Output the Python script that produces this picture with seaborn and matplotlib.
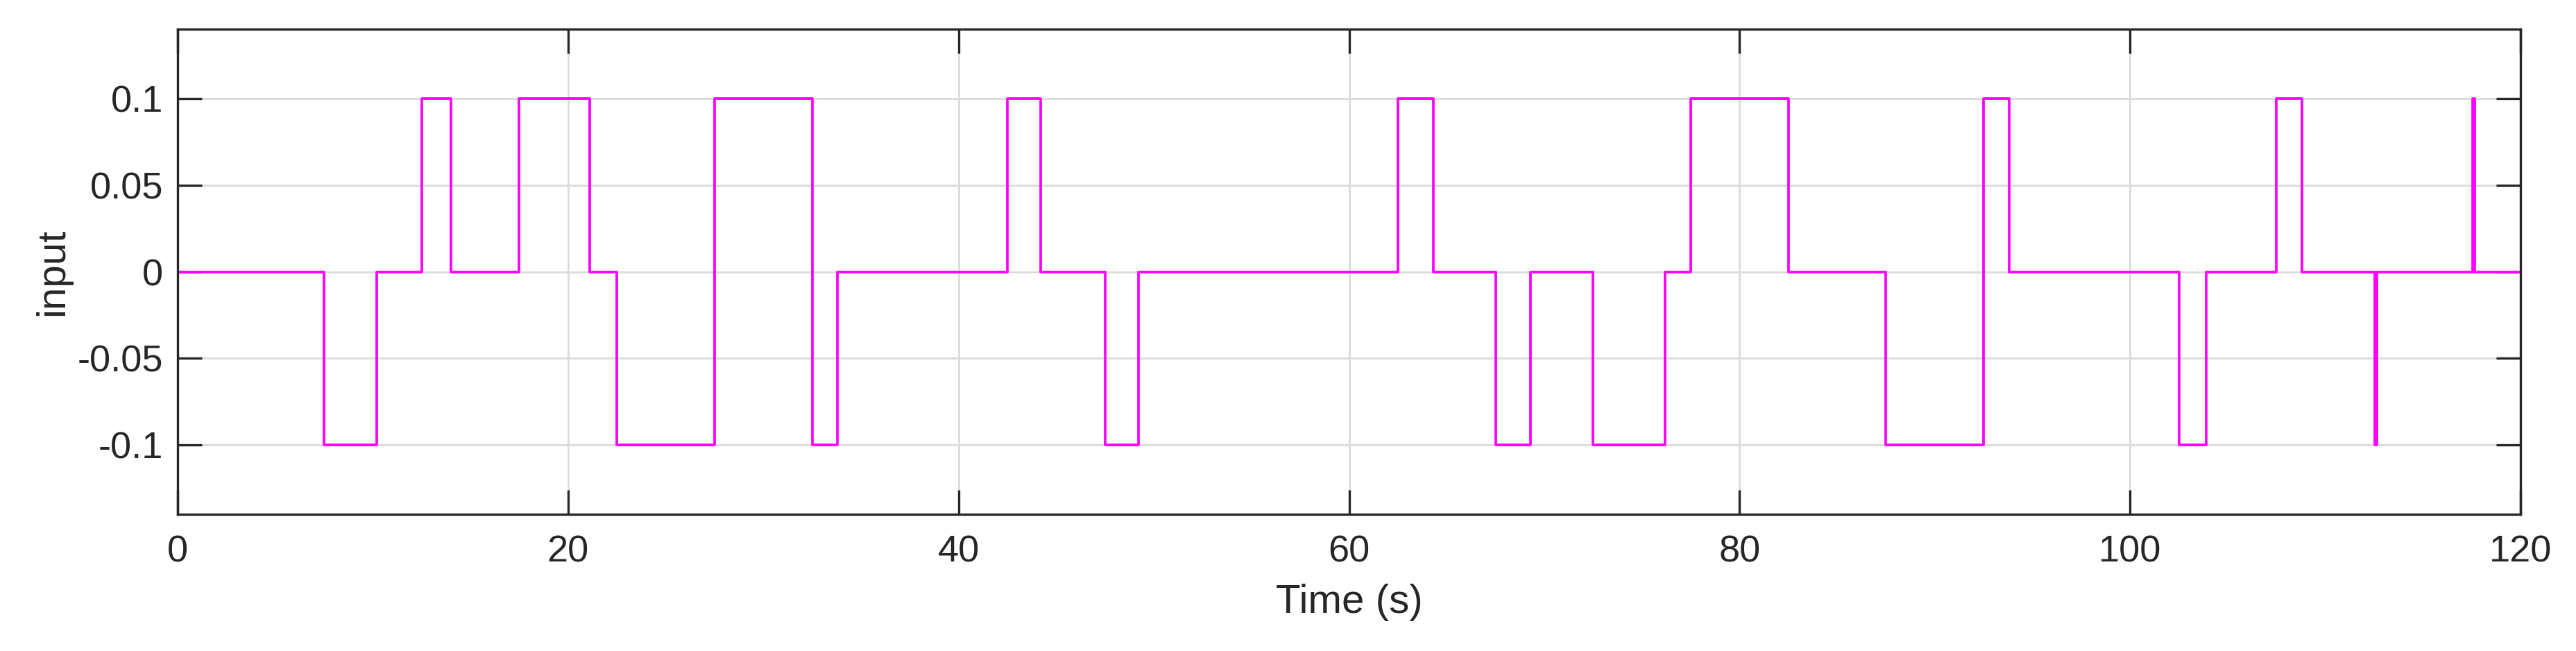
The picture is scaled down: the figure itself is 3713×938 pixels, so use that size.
import pandas as pd
import matplotlib
matplotlib.use("Agg")
import matplotlib.pyplot as plt
import seaborn as sns

# DATA (step input, value holds until next switch time)
switch_time = [0, 7.5, 10.2, 12.5, 14.0, 17.5, 21.1, 22.5, 27.5, 32.5, 33.8,
               42.5, 44.2, 47.5, 49.2, 62.5, 64.3, 67.5, 69.3, 72.5, 76.2,
               77.5, 82.5, 87.5, 92.5, 93.8, 102.5, 103.9, 107.5, 108.8,
               112.55, 112.65, 117.55, 117.65, 120]
input_level = [0, -0.1, 0, 0.1, 0, 0.1, 0, -0.1, 0.1, -0.1, 0,
               0.1, 0, -0.1, 0, 0.1, 0, -0.1, 0, -0.1, 0,
               0.1, 0, -0.1, 0.1, 0, -0.1, 0, 0.1, 0,
               -0.1, 0, 0.1, 0, 0]
x_ticks = [0, 20, 40, 60, 80, 100, 120]
y_ticks = [-0.1, -0.05, 0, 0.05, 0.1]
y_tick_labels = ["-0.1", "-0.05", "0", "0.05", "0.1"]

df = pd.DataFrame({"time": switch_time, "input": input_level})

# CONFIG
sns.set_theme(style="whitegrid", rc={
    "axes.edgecolor": "#262626",
    "axes.linewidth": 0.8,
    "grid.color": "#dcdcdc",
    "grid.linewidth": 0.7,
    "xtick.direction": "in",
    "ytick.direction": "in",
    "xtick.bottom": True,
    "ytick.left": True,
    "xtick.top": True,
    "ytick.right": True,
    "xtick.major.size": 8.5,
    "ytick.major.size": 8.5,
    "xtick.major.width": 0.8,
    "ytick.major.width": 0.8,
    "xtick.color": "#262626",
    "ytick.color": "#262626",
    "text.color": "#262626",
    "axes.labelcolor": "#262626",
})
plt.rcParams["font.family"] = ["Liberation Sans", "DejaVu Sans"]

fig = plt.figure(figsize=(3713 / 300, 938 / 300), dpi=300)
ax = fig.add_axes([256 / 3713, 1 - 741 / 938, (3633 - 256) / 3713, (741 - 42) / 938])

sns.lineplot(data=df, x="time", y="input", estimator=None, sort=False,
             drawstyle="steps-post", color="#ff00ff", linewidth=0.9, ax=ax)

ax.set_xlim(0, 120)
ax.set_ylim(-0.14, 0.14)
ax.set_xticks(x_ticks)
ax.set_xticklabels([str(t) for t in x_ticks])
ax.set_yticks(y_ticks)
ax.set_yticklabels(y_tick_labels)
ax.tick_params(axis="both", labelsize=13)
ax.tick_params(axis="x", pad=7)
ax.tick_params(axis="y", pad=5)
ax.set_xlabel("Time (s)", fontsize=14, labelpad=5)
ax.set_ylabel("input", fontsize=14, labelpad=2)
for s in ax.spines.values():
    s.set_visible(True)
    s.set_color("#262626")
ax.set_axisbelow(True)

fig.savefig("out.png", dpi=300, facecolor="white")
